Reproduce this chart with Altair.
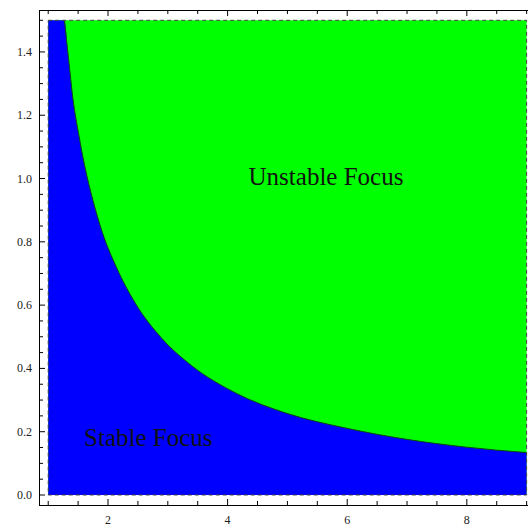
import altair as alt
import pandas as pd

# Boundary curve between stable and unstable focus
curve_x = [1.0, 1.27, 1.34, 1.415, 1.51, 1.61, 1.75, 1.905, 2.14, 2.46, 2.89, 3.39,
           4.15, 4.99, 5.99, 6.99, 8.0, 9.0]
curve_y = [1.5, 1.5, 1.38, 1.25, 1.14, 1.04, 0.93, 0.83, 0.72, 0.605, 0.497, 0.41,
           0.321, 0.258, 0.211, 0.176, 0.151, 0.134]

# Plotted region
region_x = [1.0, 9.0]
region_y = [0.0, 1.5]

# Ticks and tick labels
x_major = [2, 4, 6, 8]
x_labels = ["2", "4", "6", "8"]
x_minor = [1.0, 1.5, 2.5, 3.0, 3.5, 4.5, 5.0, 5.5, 6.5, 7.0, 7.5, 8.5, 9.0]
y_major = [0.0, 0.2, 0.4, 0.6, 0.8, 1.0, 1.2, 1.4]
y_labels = ["0.0", "0.2", "0.4", "0.6", "0.8", "1.0", "1.2", "1.4"]
y_minor = [0.05, 0.1, 0.15, 0.25, 0.3, 0.35, 0.45, 0.5, 0.55, 0.65, 0.7, 0.75,
           0.85, 0.9, 0.95, 1.05, 1.1, 1.15, 1.25, 1.3, 1.35, 1.45, 1.5]

# Annotations
label_text = ["Unstable Focus", "Stable Focus"]
label_x = [5.645, 2.674]
label_y = [0.979, 0.155]

W, H = 489, 495
FONT = "Liberation Serif"
xs = alt.Scale(domain=[0.846, 9.023], nice=False, zero=False)
ys = alt.Scale(domain=[-0.0316, 1.5325], nice=False, zero=False)

curve_df = pd.DataFrame({"x": curve_x, "y": curve_y})
boundary_df = curve_df.iloc[1:]
region_df = pd.DataFrame({"x0": [region_x[0]], "x1": [region_x[1]],
                          "y0": [region_y[0]], "y1": [region_y[1]]})
text_df = pd.DataFrame({"t": label_text, "x": label_x, "y": label_y})
xlab_df = pd.DataFrame({"lv": x_major, "lt": x_labels})
ylab_df = pd.DataFrame({"lv": y_major, "lt": y_labels})
frame_df = pd.DataFrame({"fx0": [region_x[0]], "fy0": [region_y[0]]})

green = alt.Chart(region_df).mark_rect(color="#00ff00").encode(
    x=alt.X("x0:Q", scale=xs, axis=None), x2="x1:Q",
    y=alt.Y("y0:Q", scale=ys, axis=None), y2="y1:Q",
)

blue = alt.Chart(curve_df).mark_area(color="#0000ff", interpolate="monotone").encode(
    x=alt.X("x:Q", scale=xs, axis=None),
    y=alt.Y("y:Q", scale=ys, axis=None),
    y2=alt.datum(0.0),
)

edge = alt.Chart(boundary_df).mark_line(color="#0b4a0b", strokeWidth=1,
                                        interpolate="monotone").encode(
    x=alt.X("x:Q", scale=xs, axis=None),
    y=alt.Y("y:Q", scale=ys, axis=None),
)

border = alt.Chart(region_df).mark_rect(fill="transparent", stroke="#444444",
                                        strokeWidth=1, strokeDash=[4, 3]).encode(
    x=alt.X("x0:Q", scale=xs, axis=None), x2="x1:Q",
    y=alt.Y("y0:Q", scale=ys, axis=None), y2="y1:Q",
)

texts = alt.Chart(text_df).mark_text(font=FONT, fontSize=25, color="#111111",
                                     align="center", baseline="alphabetic").encode(
    x=alt.X("x:Q", scale=xs, axis=None),
    y=alt.Y("y:Q", scale=ys, axis=None),
    text="t:N",
)

xlabels = alt.Chart(xlab_df).mark_text(font=FONT, fontSize=12, color="#222222",
                                       align="center", baseline="top").encode(
    x=alt.X("lv:Q", scale=xs, axis=None), y=alt.value(H + 10), text="lt:N")
ylabels = alt.Chart(ylab_df).mark_text(font=FONT, fontSize=12, color="#222222",
                                       align="right", baseline="middle").encode(
    y=alt.Y("lv:Q", scale=ys, axis=None), x=alt.value(-7), text="lt:N")

# Frame lines as thin filled rects
frame_left = alt.Chart(frame_df).mark_rect(color="black").encode(
    x=alt.value(0), x2=alt.value(1), y=alt.value(0), y2=alt.value(H + 1))
frame_bottom = alt.Chart(frame_df).mark_rect(color="black").encode(
    x=alt.value(0), x2=alt.value(W), y=alt.value(H), y2=alt.value(H + 1))
frame_top = alt.Chart(frame_df).mark_rect(color="black").encode(
    x=alt.value(0), x2=alt.value(W), y=alt.value(0), y2=alt.value(1))


def xticks(vals, center, length, name):
    return alt.Chart(pd.DataFrame({name: vals})).mark_tick(
        color="black", thickness=1, size=length, opacity=1).encode(
        x=alt.X(f"{name}:Q", scale=xs, axis=None), y=alt.value(center))


def yticks(vals, length, name):
    return alt.Chart(pd.DataFrame({name: vals})).mark_tick(
        color="black", thickness=1, size=length, opacity=1).encode(
        y=alt.Y(f"{name}:Q", scale=ys, axis=None), x=alt.value(length / 2))


ticks = [
    xticks(x_major, H - 3, 6, "xa"), xticks(x_minor, H - 2, 4, "xb"),
    xticks(x_major, 3, 6, "xc"), xticks(x_minor, 2, 4, "xd"),
    yticks(y_major, 6, "ya"), yticks(y_minor, 4, "yb"),
]

chart = alt.layer(green, blue, edge, border, texts, xlabels, ylabels,
                  frame_left, frame_bottom, frame_top, *ticks).properties(
    width=W, height=H,
    autosize=alt.AutoSizeParams(type="none"),
    padding={"left": 39, "top": 10, "right": 0, "bottom": 23},
    background="white",
).configure_view(stroke=None)

chart.save("out.html", embed_options={"renderer": "svg", "actions": False})
